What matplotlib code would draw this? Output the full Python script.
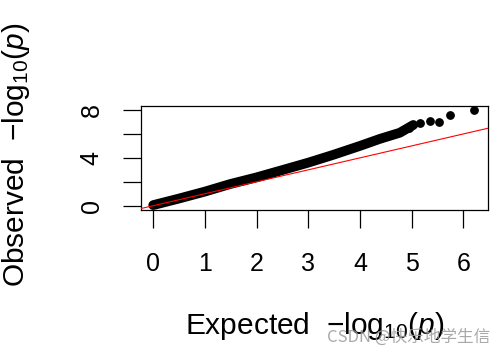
"""
QQ plot of GWAS p-values (observed vs expected -log10 p).
"""
import matplotlib
matplotlib.use('Agg')
import matplotlib.pyplot as plt

plt.rcParams['font.family'] = ['Liberation Sans', 'DejaVu Sans']
plt.rcParams['mathtext.fontset'] = 'custom'
plt.rcParams['mathtext.rm'] = 'Liberation Sans'
plt.rcParams['mathtext.it'] = 'Liberation Sans:italic'

# dense part of the curve
exp_dense = [0.0, 0.5, 1.0, 1.48, 2.0, 2.45, 3.0, 3.48, 4.0, 4.38, 4.77, 5.03]
obs_dense = [0.05, 0.6, 1.18, 1.8, 2.37, 2.92, 3.6, 4.25, 5.0, 5.58, 6.1, 6.75]
# sparse tail points
exp_tail = [4.95, 5.16, 5.35, 5.53, 5.74, 6.21]
obs_tail = [6.5, 6.94, 7.12, 7.02, 7.56, 8.0]

xticks = [0, 1, 2, 3, 4, 5, 6]
yticks = [0, 2, 4, 6, 8]
ytick_labels = ['0', '', '4', '', '8']

fig = plt.figure(figsize=(5.04, 3.56), dpi=100)
ax = fig.add_axes([0.2804, 0.4101, 0.6873, 0.293])

ax.plot(exp_dense, obs_dense, color='black', lw=7, solid_capstyle='round',
        solid_joinstyle='round', zorder=2)
ax.scatter(exp_tail, obs_tail, s=28, color='black', zorder=3)
ax.axline((0, 0), slope=1, color='red', lw=0.8, zorder=4)

ax.set_xlim(-0.23, 6.47)
ax.set_ylim(-0.36, 8.36)
ax.set_xticks(xticks)
ax.set_xticklabels([str(t) for t in xticks], fontsize=18)
ax.set_yticks(yticks)
ax.set_yticklabels(ytick_labels, fontsize=18, rotation=90, va='center')
ax.tick_params(length=13, width=0.9, direction='out')
ax.tick_params(axis='x', pad=17)
ax.tick_params(axis='y', pad=14)
for sp in ax.spines.values():
    sp.set_linewidth(0.9)

fig.text(0.624, 0.085, r'Expected  $-\mathrm{log}_{10}(\mathit{p})$',
         fontsize=21.5, ha='center', va='center')
fig.text(0.032, 0.565, r'Observed  $-\mathrm{log}_{10}(\mathit{p})$',
         fontsize=21.5, ha='center', va='center', rotation=90)

fig.text(0.972, 0.053, 'CSDN @快乐地学生信', fontsize=12, ha='right',
         va='center', color='#9a9a9a', alpha=0.85,
         family=['Noto Sans CJK SC', 'DejaVu Sans'])

fig.savefig('out.png', dpi=100)
